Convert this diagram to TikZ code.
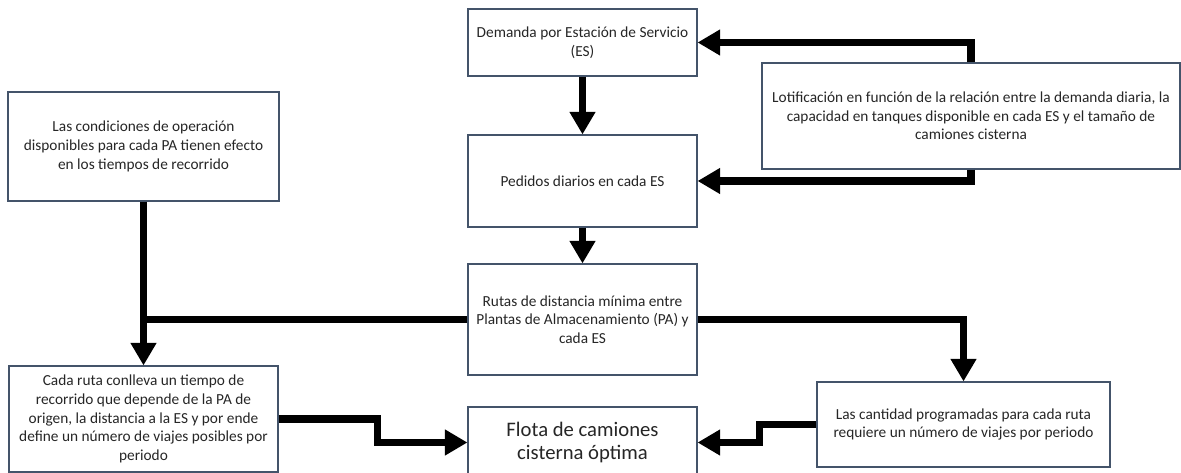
\documentclass[tikz,border=0pt]{standalone}
\usepackage{fontspec}
\setmainfont{Carlito}
\usetikzlibrary{calc, arrows.meta}
\definecolor{bordecaja}{RGB}{68,84,106}
\definecolor{textocaja}{RGB}{38,38,38}

\begin{document}
\begin{tikzpicture}[x=0.75pt, y=-0.75pt,
	caja/.style={draw=bordecaja, line width=0.8pt, fill=white, align=center, inner sep=2pt, text=textocaja, font=\fontsize{11.5}{14}\selectfont},
	flecha/.style={line width=5.6pt, -{Triangle[length=17pt,width=18.5pt]}},
	linea/.style={line width=5.6pt}]
			%Margins of the page
			\useasboundingbox (0,0) rectangle (1181,473);
			%Central column
			\node [caja, minimum width=171.75pt, minimum height=50.25pt] (demanda) at (582.5,42.5) {Demanda por Estación de Servicio\\(ES)};
			\node [caja, minimum width=171.75pt, minimum height=69pt] (pedidos) at (582.5,181) {Pedidos diarios en cada ES};
			\node [caja, minimum width=171.75pt, minimum height=83.25pt] (rutas) at (582.5,319.5) {Rutas de distancia mínima entre\\Plantas de Almacenamiento (PA) y\\cada ES};
			\node [caja, minimum width=171.75pt, minimum height=53.25pt, font=\fontsize{15.5}{17.5}\selectfont] (flota) at (582.5,442.5) {Flota de camiones\\cisterna óptima};
			%Right column
			\node [caja, minimum width=313.5pt, minimum height=79.5pt] (lotes) at (971,116) {Lotificación en función de la relación entre la demanda diaria, la\\capacidad en tanques disponible en cada ES y el tamaño de\\camiones cisterna};
			\node [caja, minimum width=219.75pt, minimum height=63.75pt] (cantidad) at (963.5,424.5) {Las cantidad programadas para cada ruta\\requiere un número de viajes por periodo};
			%Left column
			\node [caja, minimum width=203.25pt, minimum height=81.75pt] (condiciones) at (143.5,146.5) {Las condiciones de operación\\disponibles para cada PA tienen efecto\\en los tiempos de recorrido};
			\node [caja, minimum width=201.75pt, minimum height=79.5pt] (cadaruta) at (143.5,419) {Cada ruta conlleva un tiempo de\\recorrido que depende de la PA de\\origen, la distancia a la ES y por ende\\define un número de viajes posibles por\\periodo};
			%Arrows down the centre
			\draw [flecha] (demanda) -- (pedidos);
			\draw [flecha] (pedidos) -- (rutas);
			%Loop from the batching box
			\draw [flecha] (lotes.north) |- (demanda.east);
			\draw [flecha] (lotes.south) |- (pedidos.east);
			%Routes to both sides
			\draw [flecha] (condiciones) -- (cadaruta);
			\draw [linea] (rutas.west) -- (rutas.west -| condiciones.south);
			\draw [flecha] (rutas.east) -| (cantidad.north);
			%Into the fleet
			\draw [flecha] (cadaruta.east) -- ++(99,0) |- (flota.west);
			\draw [flecha] (cantidad.west) -- ++(-57,0) |- (flota.east);
\end{tikzpicture}
\end{document}
